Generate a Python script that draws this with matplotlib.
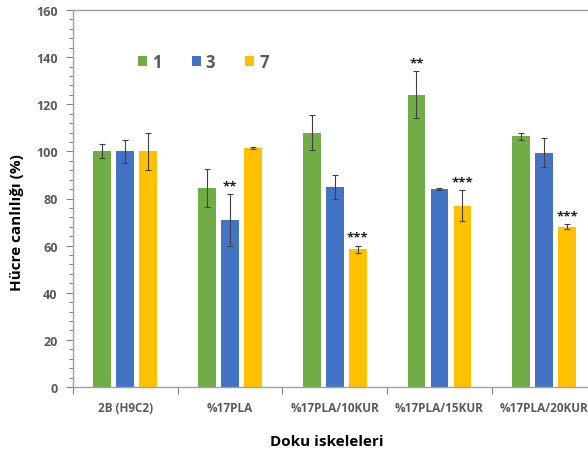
import matplotlib
matplotlib.use("Agg")
import matplotlib.pyplot as plt
from matplotlib.ticker import MultipleLocator
import numpy as np

plt.rcParams['font.family'] = ['Open Sans', 'DejaVu Sans']

categories = ["2B (H9C2)", "%17PLA", "%17PLA/10KUR", "%17PLA/15KUR", "%17PLA/20KUR"]
series_names = ["1", "3", "7"]
day1 = [100.0, 84.5, 108.0, 124.0, 106.5]
day3 = [100.0, 71.0, 85.0, 84.0, 99.5]
day7 = [100.0, 101.5, 58.5, 77.0, 68.0]
err1 = [3.0, 8.0, 7.5, 10.0, 1.5]
err3 = [5.0, 11.0, 5.0, 0.5, 6.0]
err7 = [8.0, 0.5, 1.5, 6.5, 1.0]
# significance marks: (category index, series index, label)
marks = [(1, 1, "**"), (2, 2, "***"), (3, 0, "**"), (3, 2, "***"), (4, 2, "***")]

colors = ["#70AD47", "#4472C4", "#FFC000"]
gray = "#595959"

fig = plt.figure(figsize=(5.88, 4.56), dpi=100)
ax = fig.add_axes([73 / 588, 68 / 456, 523.5 / 588, 377 / 456])

x = np.arange(len(categories))
width = 0.17
step = 0.22
values = [day1, day3, day7]
errors = [err1, err3, err7]
for i, (vals, errs) in enumerate(zip(values, errors)):
    ax.bar(x + (i - 1) * step, vals, width, color=colors[i], label=series_names[i],
           yerr=errs, error_kw=dict(ecolor="#404040", elinewidth=0.8, capsize=2.5, capthick=0.8),
           zorder=2)

for ci, si, lab in marks:
    top = values[si][ci] + errors[si][ci]
    ax.text(x[ci] + (si - 1) * step, top + 0.8, lab, ha="center", va="bottom",
            fontsize=9.5, fontweight="bold", color="#222222")

ax.set_xlim(-0.5, len(categories) - 0.5)
ax.set_ylim(0, 160)
ax.yaxis.set_major_locator(MultipleLocator(20))
ax.yaxis.set_minor_locator(MultipleLocator(4))
ax.set_xticks(x)
ax.set_xticklabels(categories)
ax.set_xticks(np.arange(-0.5, len(categories), 1.0), minor=True)
ax.tick_params(axis="x", which="major", length=0, pad=10, labelsize=8.5, labelcolor=gray)
ax.tick_params(axis="x", which="minor", length=5, color="#808080", width=0.8)
ax.tick_params(axis="y", which="major", length=5, color="#808080", width=0.8,
               labelsize=9, labelcolor=gray, pad=6)
ax.tick_params(axis="y", which="minor", length=3, color="#808080", width=0.8)
for lab in ax.get_xticklabels() + ax.get_yticklabels():
    lab.set_fontweight("bold")

for side in ["left", "bottom", "top"]:
    ax.spines[side].set_color("#A0A0A0")
    ax.spines[side].set_linewidth(1.0)
ax.spines["right"].set_visible(False)

ax.set_ylabel("Hücre canlılığı (%)", fontsize=11, fontweight="bold", color="black")
ax.yaxis.set_label_coords(-0.107, 0.44)
ax.set_xlabel("Doku iskeleleri", fontsize=11, fontweight="bold", color="black")
ax.xaxis.set_label_coords(0.485, -0.143)
ax.xaxis.label.set_va("center")
ax.yaxis.label.set_va("center")

leg = ax.legend(loc="center left", bbox_to_anchor=(0.124, 0.862), ncol=3, frameon=False,
                borderpad=0, borderaxespad=0,
                handlelength=0.55, handleheight=0.55, columnspacing=1.8, handletextpad=0.3,
                prop=dict(size=12, weight="bold"))
for t in leg.get_texts():
    t.set_color(gray)

fig.savefig("out.png", dpi=100)
